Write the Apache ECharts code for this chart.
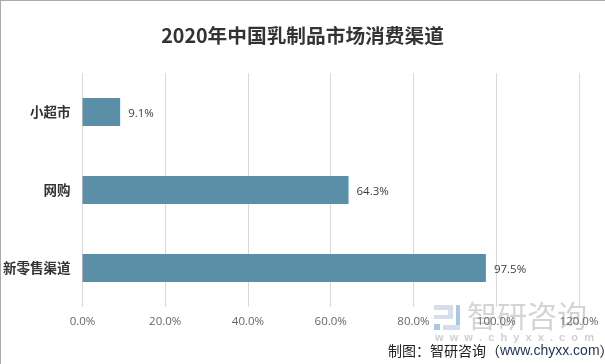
<!DOCTYPE html>
<html><head><meta charset="utf-8">
<style>html,body{margin:0;padding:0;background:#fff}#c{width:605px;height:364px}</style>
<script src="https://cdn.jsdelivr.net/npm/echarts@6/dist/echarts.min.js"></script>
</head><body><div id="c"></div>
<script>
const categories = ['小超市', '网购', '新零售渠道'];
const values = [9.1, 64.3, 97.5];
const titleText = '2020年中国乳制品市场消费渠道';
const sourcePrefix = '制图\uFF1A智研咨询\uFF08';
const sourceUrl = 'www.chyxx.com';
const sourceSuffix = '\uFF09';
const chart = echarts.init(document.getElementById('c'), null, {renderer:'canvas'});
chart.setOption({
  animation:false,
  backgroundColor:'#fff',
  title:{text:titleText,left:'center',top:21,textStyle:{fontFamily:'"Noto Sans CJK SC",sans-serif',fontSize:19.7,fontWeight:'bold',color:'#333'}},
  grid:{left:82,right:26,top:73,bottom:57},
  xAxis:{type:'value',min:0,max:120,interval:20,
    axisLine:{show:false},axisTick:{show:false},
    splitLine:{lineStyle:{color:'#d9d9d9',width:1}},
    axisLabel:{formatter:v=>v.toFixed(1)+'%',color:'#666',fontSize:11.5,fontFamily:'"Open Sans",sans-serif',margin:9}},
  yAxis:{type:'category',inverse:true,data:categories,
    axisLine:{show:false},axisTick:{show:false},
    axisLabel:{color:'#333',fontSize:13.5,fontWeight:'bold',fontFamily:'"Noto Sans CJK SC",sans-serif',margin:12}},
  series:[{type:'bar',data:values,barWidth:28,
    itemStyle:{color:'#5b8fa8'},
    label:{show:true,position:'right',distance:8,formatter:p=>p.value.toFixed(1)+'%',color:'#404040',fontSize:11.5,fontFamily:'"Open Sans",sans-serif',offset:[0,2]}}],
  graphic:[
    {type:'rect',left:0,top:0,shape:{width:605,height:1},style:{fill:'#aaa'},silent:true},
    {type:'rect',left:0,top:0,shape:{width:1,height:364},style:{fill:'#aaa'},silent:true},
    {type:'rect',left:434,top:305,shape:{width:19,height:5},style:{fill:'#d5deea'},silent:true},
    {type:'rect',left:448,top:305,shape:{width:5,height:14},style:{fill:'#d5deea'},silent:true},
    {type:'rect',left:434,top:315,shape:{width:16,height:4},style:{fill:'#d5deea'},silent:true},
    {type:'rect',left:434,top:324,shape:{width:6,height:6},style:{fill:'#a9c8e4'},silent:true},
    {type:'rect',left:456,top:305,shape:{width:4,height:25},style:{fill:'#a9c8e4'},silent:true},
    {type:'rect',left:443,top:325,shape:{width:17,height:5},style:{fill:'#d5deea'},silent:true},
    {type:'text',left:467,top:301,style:{text:'智研咨询',fill:'#d4d4d4',font:'30px "Noto Sans CJK SC",sans-serif'},silent:true,z:-1},
    {type:'text',left:435,top:332,style:{text:'w  w  w  .  c  h  y  x  x  .  c  o  m',fill:'#d0d0d0',font:'bold 11px "Liberation Sans",sans-serif'},silent:true},
    {type:'text',left:388,top:344,z:10,silent:true,style:{
      text:'{a|'+sourcePrefix+'}{b|'+sourceUrl+'}{a|'+sourceSuffix+'}',
      rich:{a:{fill:'#222',font:'14px "Noto Sans CJK SC",sans-serif'},b:{fill:'#1f2f55',font:'14px "Liberation Sans",sans-serif'}}}}
  ]
});
</script></body></html>
